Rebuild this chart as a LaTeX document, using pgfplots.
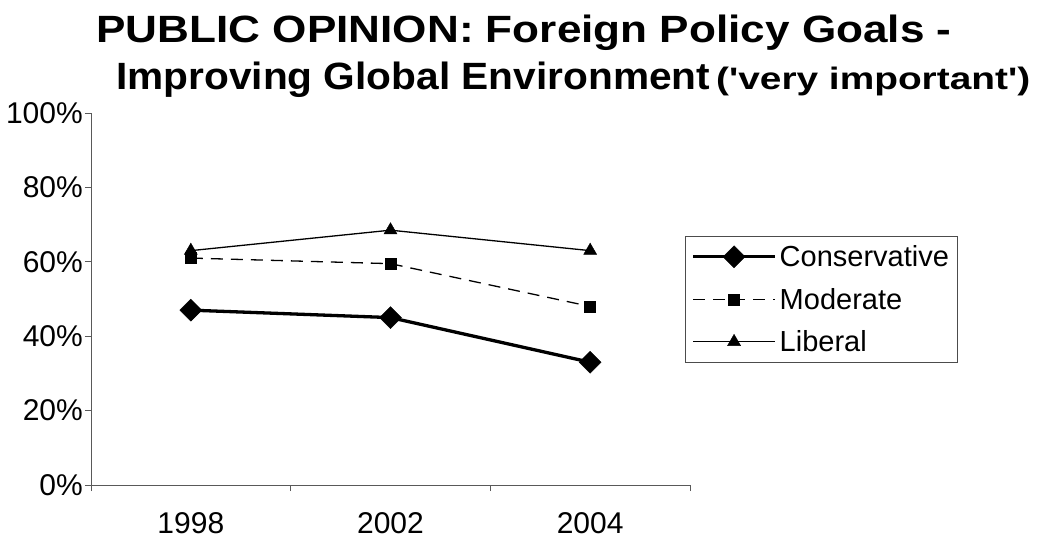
\documentclass[border=0pt]{standalone}
\usepackage{pgfplots}
\pgfplotsset{compat=1.18}
\usepackage{fontspec}
\setmainfont{Liberation Sans}
\usepackage{graphicx}
\begin{document}
\begin{tikzpicture}
\useasboundingbox (-91pt,-58pt) rectangle (956pt,485pt);
\begin{axis}[
  at={(0pt,0pt)}, anchor=south west,
  scale only axis, width=599pt, height=372pt,
  xmin=-0.5, xmax=2.5, ymin=0, ymax=100,
  axis x line*=bottom, axis y line*=left,
  xtick={-0.5,0.5,1.5,2.5}, xticklabels={},
  extra x ticks={0,1,2}, extra x tick labels={1998,2002,2004},
  extra x tick style={major tick length=0pt, xticklabel style={inner sep=0pt, yshift=-27pt}},
  ytick={0,20,40,60,80,100},
  yticklabels={0\%,20\%,40\%,60\%,80\%,100\%},
  tick align=outside, major tick length=6pt,
  tick style={black!65, line width=0.8pt},
  axis line style={black!65, line width=0.8pt},
  ticklabel style={font=\fontsize{30}{35}\selectfont, text=black},
  yticklabel style={inner sep=0pt, xshift=-2pt},
  legend style={at={(0.9917,0.669)}, anchor=north west, draw=black!70, line width=0.8pt,
    font=\fontsize{29}{35}\selectfont, row sep=16pt, column sep=1pt, inner xsep=6pt, inner ysep=7pt},
  legend cell align=left,
  legend image code/.code={\draw[mark repeat=2,mark phase=2,#1] plot coordinates {(0pt,0pt) (41pt,0pt) (82pt,0pt)};},
]
\addplot[black, line width=3.3pt, mark=square*, mark size=7.8pt, mark options={rotate=45, solid, line width=0.4pt}]
  coordinates {(0,47) (1,45) (2,33)};
\addlegendentry{Conservative}
\addplot[black, line width=1.3pt, dash pattern=on 12pt off 8pt, mark=square*, mark size=5.5pt, mark options={solid, line width=0.4pt}]
  coordinates {(0,61) (1,59.5) (2,48)};
\addlegendentry{Moderate}
\addplot[black, line width=1.3pt, mark=triangle*, mark size=7.5pt, mark options={solid, line width=0.4pt}]
  coordinates {(0,63) (1,68.5) (2,63)};
\addlegendentry{Liberal}
\end{axis}
\node[anchor=base, inner sep=0pt, font=\bfseries\fontsize{38}{42}\selectfont] at (433pt,442pt) {\resizebox{855pt}{\height}{PUBLIC OPINION: Foreign Policy Goals -}};
\node[anchor=base west, inner sep=0pt, font=\bfseries\fontsize{38}{42}\selectfont] at (25pt,395pt) {\resizebox{594pt}{\height}{Improving Global Environment}};
\node[anchor=base west, inner sep=0pt, font=\bfseries\fontsize{31}{35}\selectfont] at (625pt,395pt) {\resizebox{314pt}{\height}{(\textquotesingle very important\textquotesingle)}};
\end{tikzpicture}
\end{document}
